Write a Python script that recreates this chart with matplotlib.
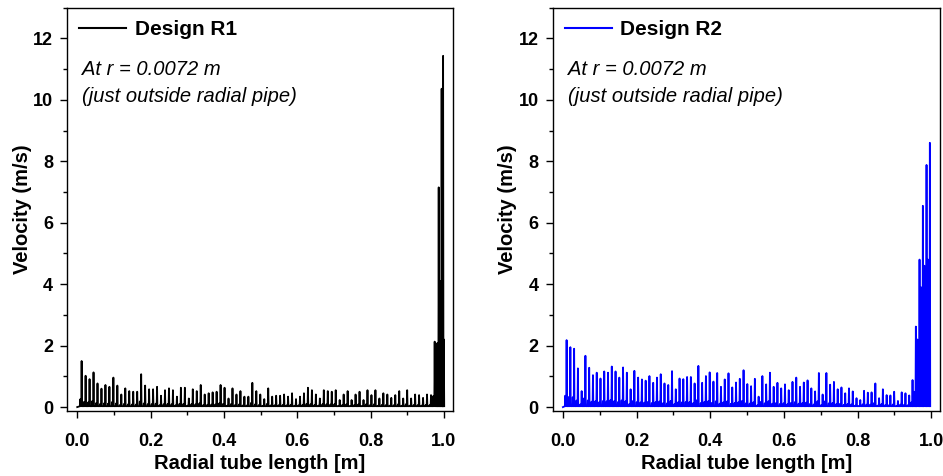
import numpy as np
import matplotlib.pyplot as plt
from matplotlib.ticker import MultipleLocator

plt.rcParams['font.family'] = ['Liberation Sans', 'DejaVu Sans']

# Design R1 - spike heights along the tube (m/s)
r1_heights = [1.50, 1.02, 0.91, 1.13, 0.77, 0.60, 0.72, 0.66, 0.96, 0.70, 0.41, 0.61,
              0.52, 0.50, 0.50, 1.07, 0.70, 0.58, 0.58, 0.66, 0.37, 0.55, 0.61, 0.55,
              0.34, 0.63, 0.63, 0.28, 0.58, 0.52, 0.72, 0.41, 0.45, 0.48, 0.50, 0.72,
              0.63, 0.28, 0.61, 0.41, 0.52, 0.34, 0.34, 0.79, 0.52, 0.41, 0.26,
              0.61, 0.34, 0.37, 0.37, 0.41, 0.34, 0.45, 0.26, 0.34, 0.45, 0.63, 0.55,
              0.41, 0.28, 0.55, 0.52, 0.50, 0.55, 0.23, 0.41, 0.52, 0.23, 0.41, 0.50,
              0.23, 0.55, 0.39, 0.55, 0.28, 0.45, 0.41, 0.30, 0.39, 0.52, 0.28, 0.55,
              0.28, 0.41, 0.39, 0.30, 0.41, 0.39]
r1_start, r1_end = 0.012, 0.965
# big spikes near the tube end
r1_end_x = [0.975, 0.982, 0.986, 0.990, 0.994, 0.998, 1.000]
r1_end_h = [2.13, 2.08, 7.15, 4.10, 10.36, 11.43, 2.20]

# Design R2
r2_heights = [2.18, 1.95, 1.90, 1.26, 0.52, 1.67, 1.28, 1.04, 1.12, 0.93, 1.16, 1.12,
              1.32, 1.16, 0.96, 1.29, 1.12, 0.58, 1.18, 0.96, 0.90, 0.86, 1.01, 0.79,
              0.96, 1.07, 0.77, 0.72, 1.17, 0.58, 0.93, 0.91, 0.98, 0.98, 0.77, 1.34,
              0.79, 1.01, 1.13, 0.83, 1.11, 0.66, 0.90, 1.10, 0.64, 0.80,
              0.92, 1.20, 0.75, 0.68, 0.92, 0.34, 1.01, 0.74, 1.12, 0.66, 0.79, 0.61,
              0.74, 0.55, 0.82, 0.96, 0.66, 0.80, 0.87, 0.61, 0.51, 1.11, 0.41, 1.11,
              0.73, 0.82, 0.58, 0.64, 0.45, 0.61, 0.51, 0.29, 0.23, 0.53, 0.47, 0.48,
              0.77, 0.29, 0.58, 0.39, 0.38, 0.50, 0.20, 0.48, 0.45, 0.38]
r2_start, r2_end = 0.010, 0.940
r2_end_x = [0.949, 0.953, 0.958, 0.962, 0.968, 0.972, 0.977, 0.981, 0.987, 0.991, 0.996]
r2_end_h = [0.88, 0.50, 2.62, 2.20, 4.80, 3.90, 6.55, 4.60, 7.88, 4.80, 8.60]

BASE = 0.03


def spikes(xs, hs):
    # build a spiky trace: narrow triangle per peak with a small shoulder before it
    px, py = [0.0], [0.0]
    for x, h in zip(xs, hs):
        px += [x - 0.0045, x - 0.0037, x - 0.003, x - 0.001, x, x + 0.001]
        py += [BASE, 0.17 * h, BASE, BASE, h, BASE]
    return np.array(px), np.array(py)


r1_x = np.concatenate([np.linspace(r1_start, r1_end, len(r1_heights)), r1_end_x])
r1_y = np.concatenate([r1_heights, r1_end_h])
r2_x = np.concatenate([np.linspace(r2_start, r2_end, len(r2_heights)), r2_end_x])
r2_y = np.concatenate([r2_heights, r2_end_h])

fig = plt.figure(figsize=(9.43, 4.76), dpi=100)
ax1 = fig.add_axes([0.071, 0.137, 0.409, 0.847])
ax2 = fig.add_axes([0.586, 0.137, 0.411, 0.847])

panels = [(ax1, r1_x, r1_y, 'k', 'Design R1'), (ax2, r2_x, r2_y, '#0000ff', 'Design R2')]
for ax, xs, ys, c, name in panels:
    sx, sy = spikes(xs, ys)
    ax.plot(sx, sy, color=c, lw=1.3, label=name)
    ax.xaxis.set_minor_locator(MultipleLocator(0.1))
    ax.yaxis.set_minor_locator(MultipleLocator(1))
    ax.set_xticks([0.0, 0.2, 0.4, 0.6, 0.8, 1.0])
    ax.set_xticklabels(['0.0', '0.2', '0.4', '0.6', '0.8', '1.0'], fontweight='bold')
    ax.set_yticks([0, 2, 4, 6, 8, 10, 12])
    ax.set_yticklabels(['0', '2', '4', '6', '8', '10', '12'], fontweight='bold')
    ax.set_xlim(-0.028, 1.024)
    ax.set_ylim(-0.12, 13.0)
    ax.tick_params(which='major', direction='out', length=5, width=1, labelsize=13)
    ax.tick_params(axis='x', which='major', pad=11)
    ax.tick_params(axis='y', which='major', pad=5)
    ax.tick_params(which='minor', direction='out', length=3, width=1)
    ax.set_xlabel('Radial tube length [m]', fontsize=14.5, fontweight='bold', labelpad=3)
    ax.set_ylabel('Velocity (m/s)', fontsize=14.5, fontweight='bold', labelpad=1)
    leg = ax.legend(loc='upper left', frameon=False, handlelength=2.25,
                    prop={'weight': 'bold', 'size': 15}, borderaxespad=0.2,
                    handletextpad=0.4)
    for ln in leg.get_lines():
        ln.set_linewidth(1.5)
    ax.text(0.04, 0.87, 'At r = 0.0072 m\n(just outside radial pipe)',
            transform=ax.transAxes, fontsize=14.5, style='italic',
            va='top', ha='left', linespacing=1.5)
    for sp in ax.spines.values():
        sp.set_linewidth(1)

fig.savefig('out.png', dpi=100)
